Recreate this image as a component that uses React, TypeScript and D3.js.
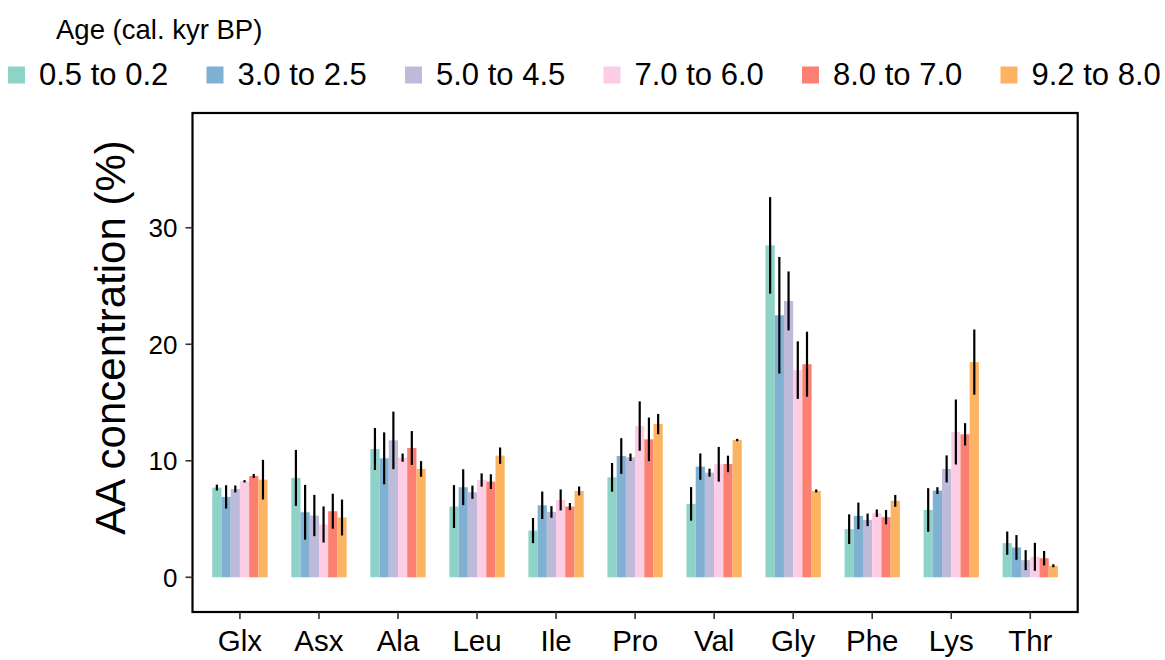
import React from "react";
import * as d3 from "d3";

const categories = ["Glx", "Asx", "Ala", "Leu", "Ile", "Pro", "Val", "Gly", "Phe", "Lys", "Thr"];
const ages = ["0.5 to 0.2", "3.0 to 2.5", "5.0 to 4.5", "7.0 to 6.0", "8.0 to 7.0", "9.2 to 8.0"];
const colors = ["#8dd3c7", "#80b1d3", "#bebada", "#fccde5", "#fb8072", "#fdb462"];

const mean_0_5 = [7.70, 8.53, 11.01, 6.07, 4.01, 8.58, 6.30, 28.49, 4.13, 5.78, 2.93];
const err_0_5 = [0.25, 2.4, 1.8, 1.84, 1.08, 1.23, 1.44, 4.14, 1.27, 1.87, 1.0];
const mean_3_0 = [6.90, 5.58, 10.21, 7.73, 6.18, 10.41, 9.50, 22.49, 5.27, 7.44, 2.56];
const err_3_0 = [1.0, 2.35, 2.23, 1.54, 1.18, 1.53, 1.13, 5.0, 1.14, 0.29, 1.06];
const mean_5_0 = [7.58, 5.30, 11.75, 7.30, 5.61, 10.30, 8.98, 23.72, 4.93, 9.30, 1.47];
const err_5_0 = [0.3, 1.77, 2.47, 0.57, 0.5, 0.32, 0.34, 2.53, 0.54, 1.16, 0.86];
const mean_7_0 = [8.24, 4.53, 10.27, 8.35, 6.64, 12.98, 9.70, 17.78, 5.50, 12.47, 1.76];
const err_7_0 = [0.1, 1.55, 0.35, 0.57, 0.9, 2.12, 1.49, 2.47, 0.32, 2.79, 1.2];
const mean_8_0 = [8.70, 5.67, 11.10, 8.21, 6.07, 11.84, 9.73, 18.29, 5.16, 12.27, 1.64];
const err_8_0 = [0.17, 1.5, 1.45, 0.63, 0.3, 1.87, 0.71, 2.79, 0.61, 0.96, 0.62];
const mean_9_2 = [8.38, 5.13, 9.30, 10.44, 7.41, 13.15, 11.78, 7.41, 6.56, 18.47, 0.99];
const err_9_2 = [1.7, 1.54, 0.67, 0.7, 0.38, 0.87, 0.1, 0.13, 0.51, 2.8, 0.13];

const yTicks = [0, 10, 20, 30];
const legendTitle = "Age (cal. kyr BP)";
const yTitle = "AA concentration (%)";

const means = [mean_0_5, mean_3_0, mean_5_0, mean_7_0, mean_8_0, mean_9_2];
const errs = [err_0_5, err_3_0, err_5_0, err_7_0, err_8_0, err_9_2];

const W = 1165;
const H = 660;
const panel = { left: 192.5, right: 1077.7, top: 113, bottom: 612 };
const FONT = "'Liberation Sans', Arial, Helvetica, sans-serif";

export default function App() {
  const x = d3
    .scaleBand<string>()
    .domain(categories)
    .range([panel.left, panel.right])
    .paddingInner(0)
    .paddingOuter(0.1);
  const step = x.step();
  const groupW = step * 0.7;
  const xs = d3.scaleBand<string>().domain(ages).range([0, groupW]).padding(0);
  const y = d3.scaleLinear().domain([-2.98, 39.85]).range([panel.bottom, panel.top]);

  const center = (c: string) => (x(c) as number) + step / 2;

  return (
    <svg
      width={W}
      height={H}
      style={{ position: "absolute", left: 0, top: 0, background: "#fff" }}
      fontFamily={FONT}
    >
      <rect x={0} y={0} width={W} height={H} fill="#fff" />
      {/* legend */}
      <text x={56} y={39} fontSize={27.5} fill="#000">
        {legendTitle}
      </text>
      {ages.map((a, i) => {
        const lx = 8 + i * 198.5;
        return (
          <g key={a}>
            <rect x={lx} y={66.5} width={17} height={17} fill={colors[i]} />
            <text x={lx + 31} y={85} fontSize={31} fill="#000">
              {a}
            </text>
          </g>
        );
      })}

      {/* bars */}
      {categories.map((c, ci) => (
        <g key={c}>
          {ages.map((a, ai) => {
            const bx = center(c) - groupW / 2 + (xs(a) as number);
            const v = means[ai][ci];
            return (
              <rect
                key={a}
                x={bx}
                y={y(v)}
                width={xs.bandwidth()}
                height={y(0) - y(v)}
                fill={colors[ai]}
              />
            );
          })}
          {ages.map((a, ai) => {
            const cx = center(c) - groupW / 2 + (xs(a) as number) + xs.bandwidth() / 2;
            const v = means[ai][ci];
            const e = errs[ai][ci];
            return (
              <line
                key={a}
                x1={cx}
                x2={cx}
                y1={y(v - e)}
                y2={y(v + e)}
                stroke="#000"
                strokeWidth={2.2}
              />
            );
          })}
        </g>
      ))}

      {/* panel border */}
      <rect
        x={panel.left}
        y={panel.top}
        width={panel.right - panel.left}
        height={panel.bottom - panel.top}
        fill="none"
        stroke="#000"
        strokeWidth={2.2}
      />

      {/* y axis */}
      {yTicks.map((t) => (
        <g key={t}>
          <line x1={panel.left - 7} x2={panel.left} y1={y(t)} y2={y(t)} stroke="#333" strokeWidth={1.6} />
          <text x={panel.left - 15} y={y(t)} dy="0.36em" textAnchor="end" fontSize={26} fill="#000">
            {t}
          </text>
        </g>
      ))}
      <text
        transform={`translate(${125},${337.5}) rotate(-90)`}
        textAnchor="middle"
        fontSize={42}
        fill="#000"
      >
        {yTitle}
      </text>

      {/* x axis */}
      {categories.map((c) => (
        <g key={c}>
          <line x1={center(c)} x2={center(c)} y1={panel.bottom} y2={panel.bottom + 7} stroke="#333" strokeWidth={1.6} />
          <text x={center(c)} y={651} textAnchor="middle" fontSize={29.5} fill="#000">
            {c}
          </text>
        </g>
      ))}
    </svg>
  );
}
